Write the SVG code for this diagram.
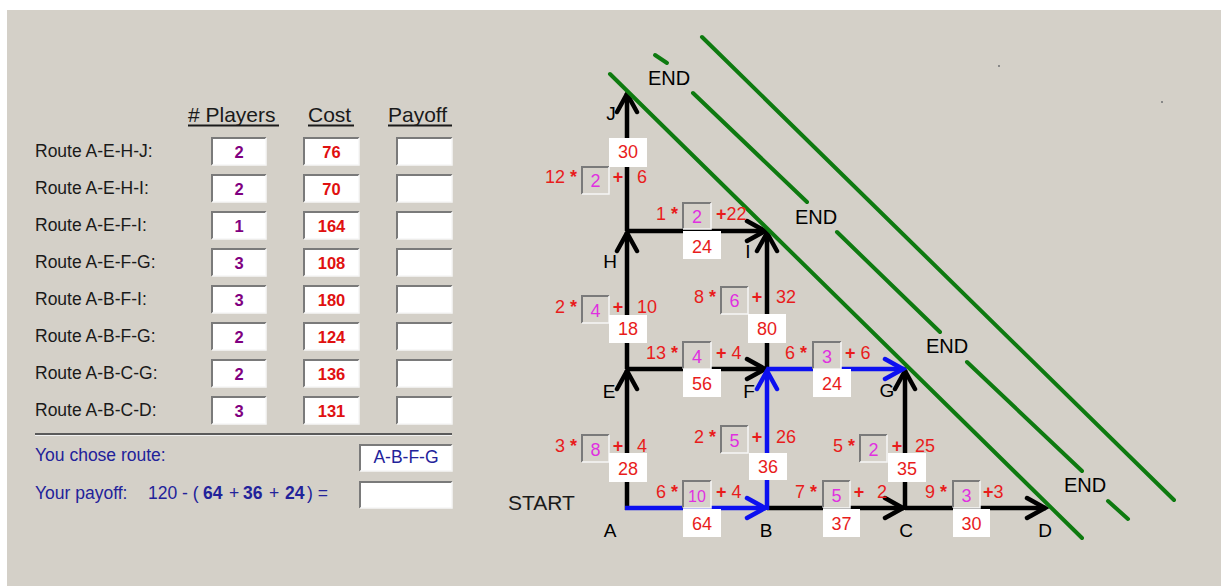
<svg xmlns="http://www.w3.org/2000/svg" width="1221" height="586" viewBox="0 0 1221 586">
<style>
text{font-family:"Liberation Sans",Arial,sans-serif}
.lbl{font-size:17.5px;fill:#1a1a1a}
.hdr{font-size:21px;fill:#1a1a1a}
.pl{font-size:16.5px;font-weight:bold;fill:#800080;text-anchor:middle}
.co{font-size:16.5px;font-weight:bold;fill:#e01010;text-anchor:middle}
.blu{font-size:17.5px;fill:#22229a}
.node{font-size:19px;fill:#000;text-anchor:middle}
.end{font-size:20px;fill:#000}
.red{font-size:18px;fill:#e81c1c}
.rc{font-size:18px;fill:#e81c1c;text-anchor:middle}
.mag{font-size:18px;fill:#e030e0;text-anchor:middle}
.b{font-weight:bold}
.wb{fill:#fff}
.inp{fill:#fff}
.dk{fill:none;stroke:#7a7a7a;stroke-width:2}
.lt{fill:none;stroke:#f6f6f6;stroke-width:1.5}
.ins{fill:#d6d2ca}
.e{stroke:#000;stroke-width:4.5;fill:none}
.eb{stroke:#0c10f0;stroke-width:4.5;fill:none}
.g{stroke:#0e7a10;stroke-width:4;stroke-linecap:round;fill:none}
</style>
<defs>
<marker id="ak" viewBox="-24 -13 28 26" refX="0" refY="0" markerWidth="28" markerHeight="26" markerUnits="userSpaceOnUse" orient="auto">
<path d="M-19,-10 L-1,0 L-19,10" fill="none" stroke="#000" stroke-width="4.5" stroke-linecap="round"/>
</marker>
<marker id="ab" viewBox="-24 -13 28 26" refX="0" refY="0" markerWidth="28" markerHeight="26" markerUnits="userSpaceOnUse" orient="auto">
<path d="M-19,-10 L-1,0 L-19,10" fill="none" stroke="#0c10f0" stroke-width="4.5" stroke-linecap="round"/>
</marker>
</defs>
<rect x="0" y="0" width="1221" height="586" fill="#fff"/>
<rect x="7" y="10" width="1214" height="576" fill="#d4d0c8"/>
<rect x="998" y="65" width="2" height="2" fill="#888"/>
<rect x="1161" y="101" width="2" height="2" fill="#888"/>

<g id="table">
<text class="hdr" x="188" y="122"># Players</text>
<text class="hdr" x="308" y="122">Cost</text>
<text class="hdr" x="388" y="122">Payoff</text>
<line x1="188" y1="125.5" x2="279" y2="125.5" stroke="#1a1a1a" stroke-width="1.8"/>
<line x1="308" y1="125.5" x2="354" y2="125.5" stroke="#1a1a1a" stroke-width="1.8"/>
<line x1="388" y1="125.5" x2="452" y2="125.5" stroke="#1a1a1a" stroke-width="1.8"/>

<g id="row1"><text class="lbl" x="35" y="157">Route A-E-H-J:</text>
<rect class="inp" x="212" y="138" width="54" height="27"/><path class="dk" d="M212,165V138H266"/><path class="lt" d="M266,138V165H212"/><text class="pl" x="239" y="158">2</text>
<rect class="inp" x="304" y="138" width="55" height="27"/><path class="dk" d="M304,165V138H359"/><path class="lt" d="M359,138V165H304"/><text class="co" x="331.5" y="158">76</text>
<rect class="inp" x="397" y="138" width="55" height="27"/><path class="dk" d="M397,165V138H452"/><path class="lt" d="M452,138V165H397"/></g>

<g id="row2"><text class="lbl" x="35" y="194">Route A-E-H-I:</text>
<rect class="inp" x="212" y="175" width="54" height="27"/><path class="dk" d="M212,202V175H266"/><path class="lt" d="M266,175V202H212"/><text class="pl" x="239" y="195">2</text>
<rect class="inp" x="304" y="175" width="55" height="27"/><path class="dk" d="M304,202V175H359"/><path class="lt" d="M359,175V202H304"/><text class="co" x="331.5" y="195">70</text>
<rect class="inp" x="397" y="175" width="55" height="27"/><path class="dk" d="M397,202V175H452"/><path class="lt" d="M452,175V202H397"/></g>

<g id="row3"><text class="lbl" x="35" y="231">Route A-E-F-I:</text>
<rect class="inp" x="212" y="212" width="54" height="27"/><path class="dk" d="M212,239V212H266"/><path class="lt" d="M266,212V239H212"/><text class="pl" x="239" y="232">1</text>
<rect class="inp" x="304" y="212" width="55" height="27"/><path class="dk" d="M304,239V212H359"/><path class="lt" d="M359,212V239H304"/><text class="co" x="331.5" y="232">164</text>
<rect class="inp" x="397" y="212" width="55" height="27"/><path class="dk" d="M397,239V212H452"/><path class="lt" d="M452,212V239H397"/></g>

<g id="row4"><text class="lbl" x="35" y="268">Route A-E-F-G:</text>
<rect class="inp" x="212" y="249" width="54" height="27"/><path class="dk" d="M212,276V249H266"/><path class="lt" d="M266,249V276H212"/><text class="pl" x="239" y="269">3</text>
<rect class="inp" x="304" y="249" width="55" height="27"/><path class="dk" d="M304,276V249H359"/><path class="lt" d="M359,249V276H304"/><text class="co" x="331.5" y="269">108</text>
<rect class="inp" x="397" y="249" width="55" height="27"/><path class="dk" d="M397,276V249H452"/><path class="lt" d="M452,249V276H397"/></g>

<g id="row5"><text class="lbl" x="35" y="305">Route A-B-F-I:</text>
<rect class="inp" x="212" y="286" width="54" height="27"/><path class="dk" d="M212,313V286H266"/><path class="lt" d="M266,286V313H212"/><text class="pl" x="239" y="306">3</text>
<rect class="inp" x="304" y="286" width="55" height="27"/><path class="dk" d="M304,313V286H359"/><path class="lt" d="M359,286V313H304"/><text class="co" x="331.5" y="306">180</text>
<rect class="inp" x="397" y="286" width="55" height="27"/><path class="dk" d="M397,313V286H452"/><path class="lt" d="M452,286V313H397"/></g>

<g id="row6"><text class="lbl" x="35" y="342">Route A-B-F-G:</text>
<rect class="inp" x="212" y="323" width="54" height="27"/><path class="dk" d="M212,350V323H266"/><path class="lt" d="M266,323V350H212"/><text class="pl" x="239" y="343">2</text>
<rect class="inp" x="304" y="323" width="55" height="27"/><path class="dk" d="M304,350V323H359"/><path class="lt" d="M359,323V350H304"/><text class="co" x="331.5" y="343">124</text>
<rect class="inp" x="397" y="323" width="55" height="27"/><path class="dk" d="M397,350V323H452"/><path class="lt" d="M452,323V350H397"/></g>

<g id="row7"><text class="lbl" x="35" y="379">Route A-B-C-G:</text>
<rect class="inp" x="212" y="360" width="54" height="27"/><path class="dk" d="M212,387V360H266"/><path class="lt" d="M266,360V387H212"/><text class="pl" x="239" y="380">2</text>
<rect class="inp" x="304" y="360" width="55" height="27"/><path class="dk" d="M304,387V360H359"/><path class="lt" d="M359,360V387H304"/><text class="co" x="331.5" y="380">136</text>
<rect class="inp" x="397" y="360" width="55" height="27"/><path class="dk" d="M397,387V360H452"/><path class="lt" d="M452,360V387H397"/></g>

<g id="row8"><text class="lbl" x="35" y="416">Route A-B-C-D:</text>
<rect class="inp" x="212" y="397" width="54" height="27"/><path class="dk" d="M212,424V397H266"/><path class="lt" d="M266,397V424H212"/><text class="pl" x="239" y="417">3</text>
<rect class="inp" x="304" y="397" width="55" height="27"/><path class="dk" d="M304,424V397H359"/><path class="lt" d="M359,397V424H304"/><text class="co" x="331.5" y="417">131</text>
<rect class="inp" x="397" y="397" width="55" height="27"/><path class="dk" d="M397,424V397H452"/><path class="lt" d="M452,397V424H397"/></g>

<line x1="35" y1="434" x2="452" y2="434" stroke="#5a5a5a" stroke-width="2"/>
<line x1="35" y1="435.5" x2="452" y2="435.5" stroke="#f2f2f2" stroke-width="1"/>

<g id="chosen"><text class="blu" x="35" y="461">You chose route:</text>
<rect class="inp" x="360" y="445" width="92" height="26"/><path class="dk" d="M360,471V445H452"/><path class="lt" d="M452,445V471H360"/>
<text class="blu" x="406" y="463" text-anchor="middle">A-B-F-G</text></g>

<g id="payoff"><text class="blu" x="35" y="499">Your payoff:</text>
<text class="blu" x="148" y="499">120 - (</text>
<text class="blu b" x="203" y="499">64</text>
<text class="blu" x="229" y="499">+</text>
<text class="blu b" x="243" y="499">36</text>
<text class="blu" x="269" y="499">+</text>
<text class="blu b" x="285" y="499">24</text>
<text class="blu" x="307" y="499">) =</text>
<rect class="inp" x="360" y="482" width="92" height="26"/><path class="dk" d="M360,508V482H452"/><path class="lt" d="M452,482V508H360"/></g>
</g>

<g id="connectors">
<line id="e-A-E" class="e" x1="627" y1="510" x2="627" y2="370" marker-end="url(#ak)"/>
<line id="e-E-H" class="e" x1="627" y1="369" x2="627" y2="232" marker-end="url(#ak)"/>
<line id="e-H-J" class="e" x1="627" y1="231" x2="627" y2="93" marker-end="url(#ak)"/>
<line id="e-H-I" class="e" x1="627" y1="231" x2="766" y2="231" marker-end="url(#ak)"/>
<line id="e-E-F" class="e" x1="627" y1="369" x2="766" y2="369" marker-end="url(#ak)"/>
<line id="e-F-I" class="e" x1="767" y1="369" x2="767" y2="232" marker-end="url(#ak)"/>
<line id="e-B-C" class="e" x1="767" y1="508" x2="904" y2="508" marker-end="url(#ak)"/>
<line id="e-C-D" class="e" x1="905" y1="508" x2="1046" y2="508" marker-end="url(#ak)"/>
<line id="e-C-G" class="e" x1="905" y1="510" x2="905" y2="370" marker-end="url(#ak)"/>
<line id="e-A-B" class="eb" x1="625" y1="508" x2="766" y2="508" marker-end="url(#ab)"/>
<line id="e-B-F" class="eb" x1="767" y1="510" x2="767" y2="370" marker-end="url(#ab)"/>
<line id="e-F-G" class="eb" x1="767" y1="369" x2="904" y2="369" marker-end="url(#ab)"/>
</g>

<g id="end-lines">
<line class="g" x1="610" y1="74" x2="1082" y2="538"/>
<line class="g" x1="655" y1="55" x2="667" y2="63"/>
<line class="g" x1="693" y1="93" x2="807" y2="202"/>
<line class="g" x1="837" y1="232" x2="940" y2="332"/>
<line class="g" x1="967" y1="362" x2="1082" y2="471"/>
<line class="g" x1="1108" y1="501" x2="1128" y2="519"/>
<line class="g" x1="702" y1="37" x2="1174" y2="500"/>
</g>

<g id="edge-labels">
<g id="lbl-H-J">
<text class="red" x="577" y="183" text-anchor="end">12 <tspan class="b">*</tspan></text>
<rect class="ins" x="582" y="167" width="27" height="27"/><path class="dk" d="M582,194V167H609"/><path class="lt" d="M609,167V194H582"/><text class="mag" x="595.5" y="187">2</text>
<text class="red b" x="618" y="183" text-anchor="middle">+</text><text class="red" x="637" y="183">6</text>
<rect class="wb" x="609" y="138" width="38" height="29"/><text class="rc" x="628" y="158">30</text>
</g>
<g id="lbl-E-H">
<text class="red" x="577" y="313" text-anchor="end">2 <tspan class="b">*</tspan></text>
<rect class="ins" x="582" y="296" width="27" height="27"/><path class="dk" d="M582,323V296H609"/><path class="lt" d="M609,296V323H582"/><text class="mag" x="595.5" y="317">4</text>
<text class="red b" x="618" y="313" text-anchor="middle">+</text><text class="red" x="637" y="313">10</text>
<rect class="wb" x="609" y="315" width="38" height="28"/><text class="rc" x="628" y="335">18</text>
</g>
<g id="lbl-A-E">
<text class="red" x="577" y="452" text-anchor="end">3 <tspan class="b">*</tspan></text>
<rect class="ins" x="582" y="435" width="27" height="27"/><path class="dk" d="M582,462V435H609"/><path class="lt" d="M609,435V462H582"/><text class="mag" x="595.5" y="456">8</text>
<text class="red b" x="618" y="452" text-anchor="middle">+</text><text class="red" x="637" y="452">4</text>
<rect class="wb" x="609" y="453" width="38" height="29"/><text class="rc" x="628" y="475">28</text>
</g>
<g id="lbl-F-I">
<text class="red" x="716" y="303" text-anchor="end">8 <tspan class="b">*</tspan></text>
<rect class="ins" x="721" y="287" width="27" height="27"/><path class="dk" d="M721,314V287H748"/><path class="lt" d="M748,287V314H721"/><text class="mag" x="734.5" y="307">6</text>
<text class="red b" x="757" y="303" text-anchor="middle">+</text><text class="red" x="776" y="303">32</text>
<rect class="wb" x="748" y="314" width="38" height="29"/><text class="rc" x="767" y="335">80</text>
</g>
<g id="lbl-B-F">
<text class="red" x="716" y="443" text-anchor="end">2 <tspan class="b">*</tspan></text>
<rect class="ins" x="721" y="426" width="27" height="27"/><path class="dk" d="M721,453V426H748"/><path class="lt" d="M748,426V453H721"/><text class="mag" x="734.5" y="447">5</text>
<text class="red b" x="757" y="443" text-anchor="middle">+</text><text class="red" x="776" y="443">26</text>
<rect class="wb" x="749" y="453" width="38" height="27"/><text class="rc" x="768" y="473">36</text>
</g>
<g id="lbl-C-G">
<text class="red" x="855" y="452" text-anchor="end">5 <tspan class="b">*</tspan></text>
<rect class="ins" x="860" y="435" width="27" height="27"/><path class="dk" d="M860,462V435H887"/><path class="lt" d="M887,435V462H860"/><text class="mag" x="873.5" y="456">2</text>
<text class="red b" x="897" y="452" text-anchor="middle">+</text><text class="red" x="915" y="452">25</text>
<rect class="wb" x="888" y="453" width="38" height="29"/><text class="rc" x="907" y="475">35</text>
</g>
<g id="lbl-H-I">
<text class="red" x="678" y="220" text-anchor="end">1 <tspan class="b">*</tspan></text>
<rect class="ins" x="683" y="203" width="28" height="26"/><path class="dk" d="M683,229V203H711"/><path class="lt" d="M711,203V229H683"/><text class="mag" x="697" y="223">2</text>
<text class="red" x="716" y="220"><tspan class="b">+</tspan>22</text>
<rect class="wb" x="683" y="231" width="38" height="28"/><text class="rc" x="702" y="253">24</text>
</g>
<g id="lbl-E-F">
<text class="red" x="678" y="359" text-anchor="end">13 <tspan class="b">*</tspan></text>
<rect class="ins" x="683" y="342" width="28" height="27"/><path class="dk" d="M683,369V342H711"/><path class="lt" d="M711,342V369H683"/><text class="mag" x="697" y="363">4</text>
<text class="red" x="716" y="359"><tspan class="b">+</tspan> 4</text>
<rect class="wb" x="683" y="369" width="38" height="28"/><text class="rc" x="702" y="390">56</text>
</g>
<g id="lbl-F-G">
<text class="red" x="807" y="359" text-anchor="end">6 <tspan class="b">*</tspan></text>
<rect class="ins" x="813" y="342" width="28" height="27"/><path class="dk" d="M813,369V342H841"/><path class="lt" d="M841,342V369H813"/><text class="mag" x="827" y="363">3</text>
<text class="red" x="845" y="359"><tspan class="b">+</tspan> 6</text>
<rect class="wb" x="813" y="369" width="38" height="28"/><text class="rc" x="832" y="390">24</text>
</g>
<g id="lbl-A-B">
<text class="red" x="678" y="498" text-anchor="end">6 <tspan class="b">*</tspan></text>
<rect class="ins" x="683" y="481" width="28" height="27"/><path class="dk" d="M683,508V481H711"/><path class="lt" d="M711,481V508H683"/><text class="mag" x="697" y="502" style="font-size:16px">10</text>
<text class="red" x="716" y="498"><tspan class="b">+</tspan> 4</text>
<rect class="wb" x="683" y="509" width="38" height="28"/><text class="rc" x="702" y="530">64</text>
</g>
<g id="lbl-B-C">
<text class="red" x="817" y="498" text-anchor="end">7 <tspan class="b">*</tspan></text>
<rect class="ins" x="823" y="481" width="27" height="27"/><path class="dk" d="M823,508V481H850"/><path class="lt" d="M850,481V508H823"/><text class="mag" x="836.5" y="502">5</text>
<text class="red b" x="859" y="498" text-anchor="middle">+</text><text class="red" x="877" y="498">2</text>
<rect class="wb" x="823" y="509" width="37" height="28"/><text class="rc" x="841.5" y="530">37</text>
</g>
<g id="lbl-C-D">
<text class="red" x="947" y="498" text-anchor="end">9 <tspan class="b">*</tspan></text>
<rect class="ins" x="953" y="481" width="27" height="27"/><path class="dk" d="M953,508V481H980"/><path class="lt" d="M980,481V508H953"/><text class="mag" x="966.5" y="502">3</text>
<text class="red" x="983" y="498"><tspan class="b">+</tspan>3</text>
<rect class="wb" x="953" y="509" width="37" height="28"/><text class="rc" x="971.5" y="530">30</text>
</g>
</g>

<g id="node-A"><text class="node" x="610" y="537">A</text></g>
<g id="node-B"><text class="node" x="766" y="537">B</text></g>
<g id="node-C"><text class="node" x="906" y="537">C</text></g>
<g id="node-D"><text class="node" x="1045" y="537">D</text></g>
<g id="node-E"><text class="node" x="609" y="398">E</text></g>
<g id="node-F"><text class="node" x="749" y="398">F</text></g>
<g id="node-G"><text class="node" x="887" y="397">G</text></g>
<g id="node-H"><text class="node" x="610" y="268">H</text></g>
<g id="node-I"><text class="node" x="748" y="258">I</text></g>
<g id="node-J"><text class="node" x="611" y="120">J</text></g>
<g id="start"><text x="508" y="510" style="font-size:21px;fill:#1a1a1a">START</text></g>
<g id="end-labels">
<text class="end" x="648" y="85">END</text>
<text class="end" x="795" y="224">END</text>
<text class="end" x="926" y="353">END</text>
<text class="end" x="1064" y="492">END</text>
</g>
</svg>
